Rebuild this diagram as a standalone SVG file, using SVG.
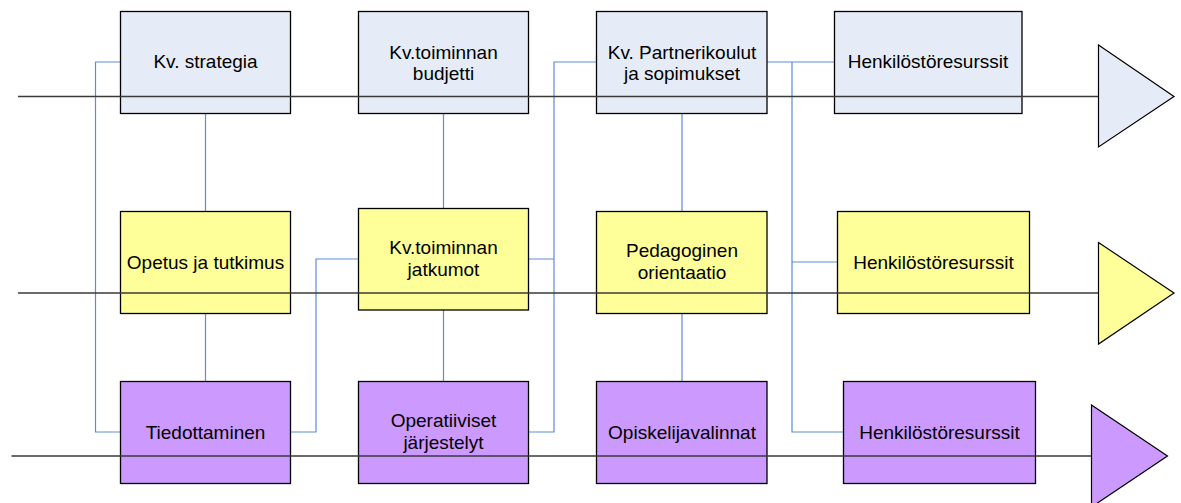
<svg xmlns="http://www.w3.org/2000/svg" width="1181" height="503" viewBox="0 0 1181 503">
<style>
.b{stroke:#000;stroke-width:1.3}
.r1{fill:#E6ECF7}
.r2{fill:#FFFF99}
.r3{fill:#CC99FF}
.t{font-family:"Liberation Sans",Arial,sans-serif;font-size:19px;fill:#000;text-anchor:middle}
.c{fill:none;stroke:#5F8DD3;stroke-width:1.2}
.ax{stroke:#3a3a3a;stroke-width:1.4;fill:none}
.tri{stroke:#000;stroke-width:1.2}
</style>
<rect width="1181" height="503" fill="#fff"/>
<g id="connectors">
<path class="c" d="M205.5,113.5V211.5M205.5,313.5V381.5"/>
<path class="c" d="M443.5,113.5V208.5M443.5,310V381.5"/>
<path class="c" d="M682,113.5V211.5M682,313.5V381.5"/>
<path class="c" d="M120.5,62H95.5V432H120.5"/>
<path class="c" d="M290.5,432H316V259H358.5"/>
<path class="c" d="M528.5,432H554V62H596.5M528.5,259H554"/>
<path class="c" d="M767,62H792V432H843.5M792,62H834.5M792,262H837.5"/>
</g>
<g id="n1"><rect class="b r1" x="120.5" y="11.5" width="170" height="102"/><text class="t" x="205.5" y="68">Kv. strategia</text></g>
<g id="n2"><rect class="b r1" x="358.5" y="11.5" width="170" height="102"/><text class="t" x="443.5" y="58.5">Kv.toiminnan</text><text class="t" x="443.5" y="80">budjetti</text></g>
<g id="n3"><rect class="b r1" x="596.5" y="11.5" width="170.5" height="102"/><text class="t" x="682" y="58.5">Kv. Partnerikoulut</text><text class="t" x="682" y="80">ja sopimukset</text></g>
<g id="n4"><rect class="b r1" x="834.5" y="11.5" width="187.5" height="102"/><text class="t" x="928" y="68">Henkilöstöresurssit</text></g>
<g id="n5"><rect class="b r2" x="120.5" y="211.5" width="170" height="102"/><text class="t" x="205.5" y="268.5">Opetus ja tutkimus</text></g>
<g id="n6"><rect class="b r2" x="358.5" y="208.5" width="170" height="101.5"/><text class="t" x="443.5" y="253.5">Kv.toiminnan</text><text class="t" x="443.5" y="276">jatkumot</text></g>
<g id="n7"><rect class="b r2" x="596.5" y="211.5" width="170.5" height="102"/><text class="t" x="682" y="256.5">Pedagoginen</text><text class="t" x="682" y="279">orientaatio</text></g>
<g id="n8"><rect class="b r2" x="837.5" y="211.5" width="192" height="102"/><text class="t" x="933.5" y="268.5">Henkilöstöresurssit</text></g>
<g id="n9"><rect class="b r3" x="120.5" y="381.5" width="170" height="102"/><text class="t" x="205.5" y="438.5">Tiedottaminen</text></g>
<g id="n10"><rect class="b r3" x="358.5" y="381.5" width="170" height="102"/><text class="t" x="443.5" y="426.5">Operatiiviset</text><text class="t" x="443.5" y="448.5">järjestelyt</text></g>
<g id="n11"><rect class="b r3" x="596.5" y="381.5" width="170.5" height="102"/><text class="t" x="682" y="438.5">Opiskelijavalinnat</text></g>
<g id="n12"><rect class="b r3" x="843.5" y="381.5" width="192" height="102"/><text class="t" x="939.5" y="438.5">Henkilöstöresurssit</text></g>
<g id="axes">
<path class="ax" d="M18,96.5H1098.5"/>
<path class="ax" d="M18,293H1098.5"/>
<path class="ax" d="M11.5,456H1091.5"/>
<polygon class="tri r1" points="1098.5,45 1174,96.5 1098.5,147"/>
<polygon class="tri r2" points="1098.5,242.5 1174,293 1098.5,344"/>
<polygon class="tri r3" points="1091.5,405 1167.5,456 1091.5,507"/>
</g>
</svg>
